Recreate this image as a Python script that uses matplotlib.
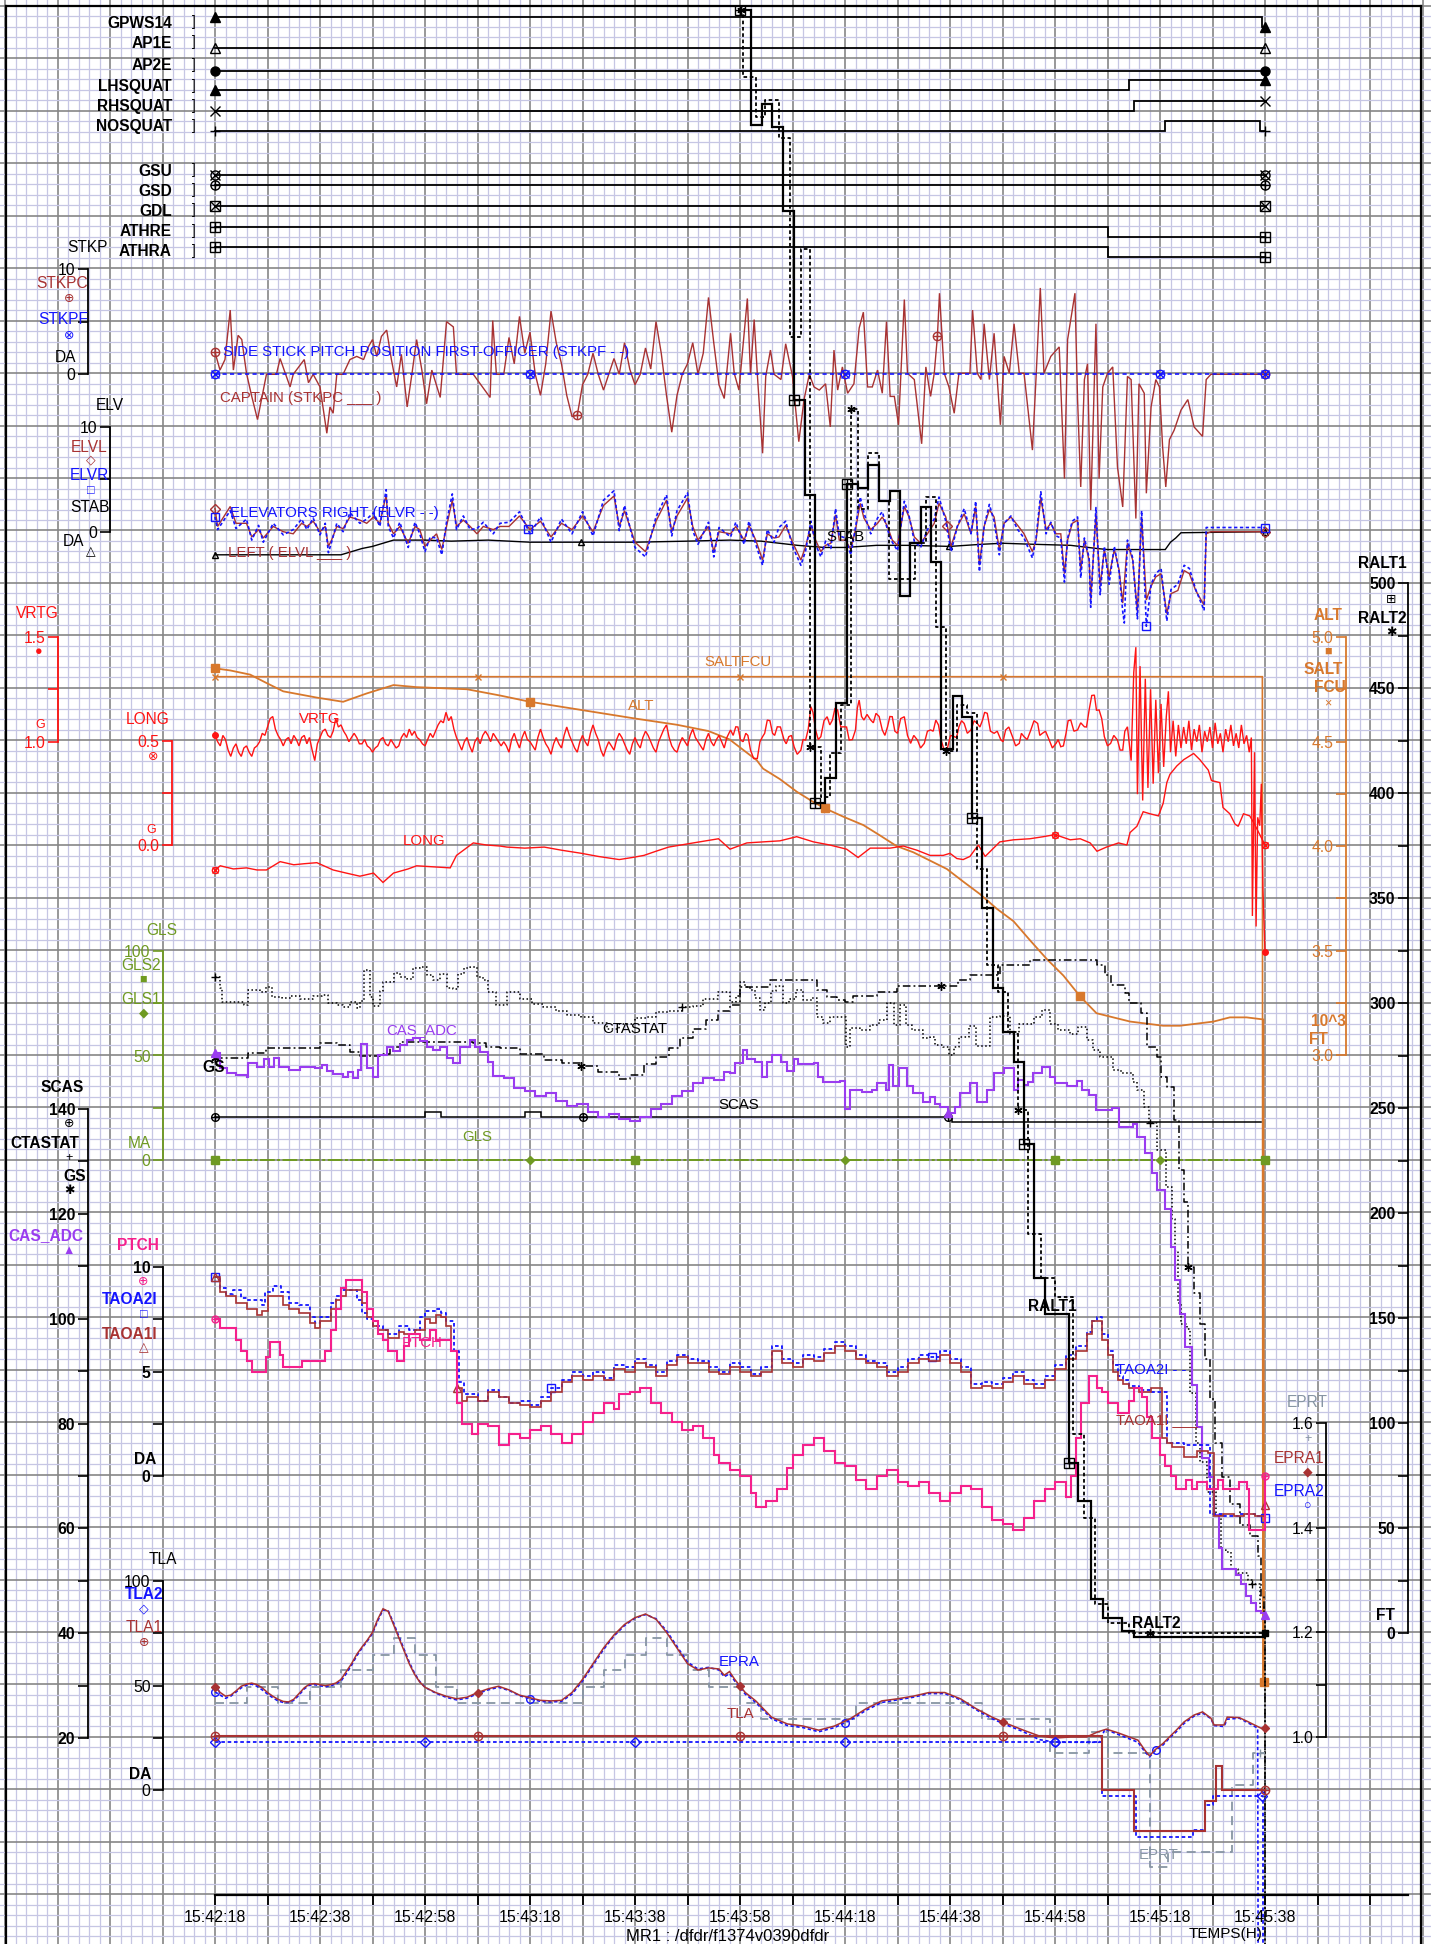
import numpy as np
import matplotlib
matplotlib.use("Agg")
import matplotlib.pyplot as plt

plt.rcParams['font.family'] = ['Liberation Sans', 'DejaVu Sans']

# ---------------------------------------------------------------------------
# data: time in seconds after 15:42:18, values in engineering units
# ---------------------------------------------------------------------------
# discrete parameters (state 0/1, step changes)
GPWS14 = [(0, 1), (199.4, 0), (200, 0)]
AP1E = [(0, 0), (200, 0)]
AP2E = [(0, 0), (200, 0)]
LHSQUAT = [(0, 0), (174.1, 1), (200, 1)]
RHSQUAT = [(0, 0), (175.1, 1), (200, 1)]
NOSQUAT = [(0, 0), (181, 1), (199, 0), (200, 0)]
GSU = [(0, 0), (200, 0)]
GSD = [(0, 0), (200, 0)]
GDL = [(0, 0), (200, 0)]
ATHRE = [(0, 1), (170, 0), (200, 0)]
ATHRA = [(0, 1), (170, 0), (200, 0)]

# side stick pitch (DA)
STKPC = [(0, 2.1), (0.95, 0.4), (1.9, 1.4), (2.9, 6.1), (3.5, 0.4), (4.4, 3.7), (5.1, 3.3), (6, 0.1),
         (7, -2.1), (8.1, -4.3), (9.2, -1.5), (9.8, 0), (11.7, 0), (12.4, 1.5), (14.3, -1.2), (14.9, 0),
         (17, 1.4), (17.8, -0.8), (18.7, 0), (20, -1.2), (21.3, -5.6), (21.9, -3.1), (22.5, -3.7),
         (23.2, 0), (24.4, 0), (25.7, 1.4), (27, 1.7), (28.3, 1.4), (29.2, 2.6), (30, 3.3), (30.8, 1.7),
         (31.7, 3.6), (32.7, 4.2), (33.6, 1.4), (34.6, -1.2), (35.5, 1.9), (36.6, -3.1), (37.5, 0),
         (38.4, 3.3), (39.4, 0.4), (40.3, -2.8), (41.3, 0.4), (42.9, -2.2), (44.1, 5.0), (45.4, 4.5),
         (46, 0), (49.2, 0), (52.4, -2.2), (52.9, 5.1), (53.6, 0), (55, 0), (56, 3.5), (57, 1), (58, 5.5),
         (59, 2), (60, 4), (61, 0), (62, -2), (63, 1), (64, 6), (65, 3), (66, 1), (67, -2), (68, -4),
         (69, -3.9), (70, -1), (71, 0), (72, 2), (73, 0), (74, -1.5), (75, 0), (76, 1.5), (77, 0), (78, 3),
         (79, 0.5), (80, -1), (81, 0), (82, 2.5), (83, 0.5), (84, 5), (85, 2), (86, -2), (87, -5.5),
         (88, -2), (89, 0), (90, 1), (91, 3), (92, 0), (93, 2), (94, 7.3), (95, 3), (96, -1), (97, -2.3),
         (98.2, 3.9), (98.9, 0.1), (99.8, -1.5), (101.4, 7.2), (102, 0), (102.7, 5.2), (103.3, 0),
         (104.3, -7.5), (104.9, -0.2), (105.8, 2.3), (106.5, 0), (107.8, -0.5), (108.7, 2.9), (110, -0.2),
         (111.2, -6.4), (112.2, -2.4), (113.2, 0), (114.1, -1.2), (115.1, -1.5), (116.3, -0.9),
         (117.2, -5), (117.9, 2.3), (118.6, -1.5), (119.5, 0.7), (120.5, -1.8), (121.7, -0.9),
         (122.7, 4.4), (123.5, 5.9), (124.3, -1.2), (125.2, -1.2), (126.2, 0.4), (127.1, -1.8),
         (127.9, 5), (128.6, -2.1), (129.4, -2.1), (130.2, -4.8), (131.3, 7.1), (131.9, 0.1),
         (133.2, -0.5), (134.6, -6.6), (135.4, 0.7), (136.3, -2.1), (137.0, 0.1), (137.6, 3.6), (138, 7.7),
         (138.9, 0.1), (139.8, -1.2), (140.8, -3.7), (141.7, 0.1), (143.8, 0.1), (144.3, 6.1),
         (145.2, 0.1), (145.9, -0.5), (146.5, 4.8), (147.5, -0.5), (148.4, 3.9), (149.6, -4.8),
         (150.3, 1.7), (151.3, 0.1), (152.2, 4.8), (153.2, 0.1), (154.1, 0.1), (155.7, -7.2),
         (156.4, -0.2), (157.2, 8.2), (157.9, 0.1), (159.2, 1.7), (160.8, 2.6), (161.8, -9.9),
         (162.4, 3.3), (163.8, 7.7), (164.3, -2.4), (164.9, -10.7), (165.6, -0.5), (166.2, 1),
         (166.8, -12.9), (167.8, 4.8), (168.4, -9.9), (169.1, -1.2), (170, 0.1), (171, 0.7),
         (171.9, -8.8), (172.9, -12.6), (173.8, -0.2), (174.5, -0.5), (175.4, -13.7), (176, -0.9),
         (177, -1.8), (177.4, -11.3), (178.3, -3.1), (179.2, -0.5), (179.9, -1.2), (180.5, -6.9),
         (181.1, -10.7), (181.8, -6.2), (182.7, -5.3), (184, -3.4), (185.3, -2.4), (186.5, -5),
         (188.1, -5.9), (188.8, -0.5), (189.7, 0), (200, 0)]
STKPF = [(0, 0), (200, 0)]

# elevators / stabilizer (DA)
ELVL = [(0, 2.2), (0.5, 0.5), (2.9, 2.4), (4, 0.8), (6, 0.8), (7, -0.5), (8.3, 0.2), (9.2, -0.6),
        (11.1, 0.5), (13, 0), (14.9, -0.2), (16.5, 0.8), (17.5, 0.5), (18.7, 1.0), (20, 0), (21, 0.5),
        (21.6, -1.4), (22.2, -0.8), (23.2, 0.5), (24.4, 0.3), (25.7, 1.4), (27.6, 1.1), (28.9, 0.8),
        (30.2, 1.4), (31.4, 0.8), (32.6, 3.5), (33, 0.8), (34, -0.2), (35.2, 0.5), (36.8, -1.1),
        (38.1, 0.5), (39, 0.2), (40, -1.4), (41, -0.8), (42.2, -0.2), (43.2, -1.7), (44.1, 0.5),
        (45.2, 3.0), (46, 0.5), (47.3, 1.1), (48.6, 0.5), (49.9, -0.2), (51.1, 0.5), (53, 0.2),
        (54.3, 0.5), (56, 0.5), (58, 1.5), (60, 0.2), (62, 1), (64, -0.5), (66, 0.8), (68, 0.2),
        (70, 1.5), (72, 0), (74, 2.5), (76, 3.4), (77, 0.5), (78, 2), (80, -1), (82, -1.9), (84, 1),
        (86, 3), (87, 0), (88, 1.5), (90, 3.2), (91, 0.5), (92, -0.8), (94, 0.5), (95, -1.9), (96, 0),
        (98.2, -0.2), (99.2, 0.5), (100.8, -0.8), (101.7, 0.6), (103, -0.8), (104.3, -2.7),
        (105.2, -0.2), (106.5, -0.6), (107.4, -0.5), (108.7, 0.6), (110, -1.0), (111.6, -2.7),
        (112.5, -1.4), (113.5, 0.6), (114.4, -0.8), (115.4, -1.9), (116.3, -1.3), (117.3, -1.1),
        (118.2, 1.6), (118.9, -0.8), (120.1, -0.8), (121.1, -1.7), (122, 0.2), (122.9, 2.7),
        (123.6, 1.3), (124.9, 0.2), (126.2, 0.8), (127.1, 1.4), (128.1, 0.5), (129, -0.8),
        (130, -1.3), (131.3, 2.4), (132.2, 1.4), (133.2, -0.5), (134.4, -1.1), (135.7, -0.2),
        (137, 0.8), (137.9, 2.7), (139.2, 1.4), (140.2, -1.4), (141.4, 0.5), (142.7, 1.7), (144, -0.2),
        (144.9, 2.4), (145.6, -3.2), (146.5, 0.5), (147.5, 2.1), (148.4, 1.4), (149.4, -1.7),
        (150.3, 0.8), (151.6, 1.4), (152.9, 0.6), (154.1, -0.2), (155.7, -1.9), (156.4, -0.8),
        (157.3, 3.2), (158.3, 0.2), (159.2, 0.8), (160.2, -0.2), (161.1, -0.2), (161.8, -4.0),
        (162.4, -0.8), (163.3, 0.8), (164.3, 1.1), (164.9, -3.7), (165.6, -0.8), (166.5, -2.7),
        (166.8, -6.5), (167.8, 1.7), (168.6, -5.2), (169.4, -1.7), (170.3, -4.3), (171.3, -1.7),
        (172.2, -3.6), (172.9, -6.8), (173.8, -1.1), (174.8, -2.7), (175.7, -7.6), (176.5, 1.4),
        (177.4, -6.5), (178.3, -5.2), (179.2, -4.3), (180.2, -4.0), (181.3, -7.8), (182.1, -5.9),
        (183.4, -5.6), (184.6, -3.7), (185.6, -4.0), (186.8, -5.6), (188.4, -7.0), (188.8, -0.2),
        (189.7, 0), (200, 0)]
ELVR = [(0, 1.4), (0.5, 0.2), (2.9, 2.0), (4, 0.3), (6, 1.2), (7, -0.8), (8.3, 0.6), (9.2, -1.0),
        (11.1, 0.8), (13, -0.3), (14.9, 0.2), (16.5, 1.2), (17.5, 0.2), (18.7, 1.3), (20, -0.3),
        (21, 0.8), (21.6, -2.0), (22.2, -1.0), (23.2, 0.8), (24.4, 0.0), (25.7, 1.8), (27.6, 0.8),
        (28.9, 1.2), (30.2, 1.8), (31.4, 0.5), (32.6, 4.0), (33, 0.5), (34, -0.6), (35.2, 0.9),
        (36.8, -1.5), (38.1, 0.9), (39, -0.2), (40, -1.9), (41, -0.5), (42.2, -0.6), (43.2, -2.2),
        (44.1, 0.9), (45.2, 3.6), (46, 0.2), (47.3, 1.5), (48.6, 0.2), (49.9, 0.3), (51.1, 0.9),
        (53, -0.2), (54.3, 0.8), (56, 0.9), (58, 1.9), (60, -0.2), (62, 1.4), (64, -1.0), (66, 1.2),
        (68, -0.2), (70, 1.9), (72, -0.4), (74, 3.0), (76, 3.9), (77, 0.1), (78, 2.5), (80, -1.5),
        (82, -2.4), (84, 1.4), (86, 3.5), (87, -0.4), (88, 2.0), (90, 3.7), (91, 0.1), (92, -1.2),
        (94, 0.9), (95, -2.4), (96, 0.4), (98.2, -0.5), (99.2, 0.9), (100.8, -1.2), (101.7, 1.0),
        (103, -1.2), (104.3, -3.2), (105.2, 0.2), (106.5, -1.0), (107.4, 0.4), (108.7, 1.0),
        (110, -1.4), (111.6, -3.2), (112.5, -1.8), (113.5, 1.0), (114.4, -1.2), (115.4, -2.4),
        (116.3, -0.9), (117.3, -1.6), (118.2, 2.2), (118.9, -0.4), (120.1, -0.6), (121.1, -2.2),
        (122, 0.4), (122.9, 3.3), (123.6, 1.8), (124.9, -0.2), (126.2, 1.3), (127.1, 1.9),
        (128.1, 0.2), (129, -1.0), (130, -1.8), (131.3, 2.9), (132.2, 1.5), (133.2, -0.9),
        (134.4, -1.5), (135.7, 0.2), (137, 1.2), (137.9, 3.3), (139.2, 1.0), (140.2, -1.9),
        (141.4, 0.5), (142.7, 2.2), (144, -0.2), (144.9, 2.9), (145.6, -3.8), (146.5, 0.5),
        (147.5, 2.6), (148.4, 1.0), (149.4, -2.2), (150.3, 0.8), (151.6, 1.5), (152.9, 0.2),
        (154.1, -0.6), (155.7, -2.5), (156.4, -0.6), (157.3, 3.8), (158.3, -0.2), (159.2, 0.9),
        (160.2, -0.4), (161.1, -0.6), (161.8, -4.8), (162.4, -0.6), (163.3, 1.0), (164.3, 1.4),
        (164.9, -4.4), (165.6, -0.6), (166.5, -2.5), (166.8, -7.2), (167.8, 2.3), (168.6, -6.0),
        (169.4, -1.4), (170.3, -5.0), (171.3, -1.4), (172.2, -3.8), (172.9, -7.6), (173.2, -8.7),
        (173.8, -0.8), (174.8, -2.5), (175.7, -8.3), (176.5, 2.0), (177.4, -9.0), (178.3, -5.0),
        (179.2, -4.0), (180.2, -3.5), (181.3, -8.5), (182.1, -5.5), (183.4, -5.0), (184.6, -3.2),
        (185.6, -3.5), (186.8, -5.5), (188.4, -7.5), (188.8, 0.4), (200, 0.4)]
STAB = [(0, -2.2), (24, -2.2), (26, -1.9), (28, -1.6), (30, -1.4), (32, -1.1), (34, -0.8), (40, -0.8),
        (45, -0.9), (52, -0.8), (60, -1.0), (70, -1.0), (80, -1.0), (90, -0.9), (98, -0.8), (104, -0.9),
        (111, -1.3), (116, -1.5), (120, -1.5), (126, -1.3), (132, -1.3), (140, -1.4), (146, -1.2),
        (150, -1.1), (156, -1.2), (163, -1.3), (168, -1.6), (170, -1.7), (181, -1.7), (182, -1.0),
        (183, -0.6), (184, -0.1), (200, 0.0)]

# accelerations (G)
VRTG = [(0, 1.03), (0.5, 1.00), (1, 0.98), (1.5, 1.03), (2, 1.01), (2.5, 0.96), (3, 0.93), (3.5, 0.97),
        (4, 0.99), (4.5, 0.95), (5, 0.93), (5.5, 0.97), (6, 0.98), (6.5, 0.95), (7, 0.93), (7.5, 0.97),
        (8, 0.98), (8.5, 1.00), (9, 1.04), (9.5, 1.03), (10, 1.07), (10.5, 1.11), (11, 1.12),
        (11.5, 1.06), (12, 1.03), (12.5, 1.01), (13, 0.98), (13.5, 1.01), (14, 1.02), (14.5, 0.99),
        (15, 1.03), (15.5, 1.01), (16, 0.98), (16.5, 1.02), (17, 1.03), (17.5, 0.99), (18, 1.02),
        (18.5, 0.96), (19, 0.91), (19.5, 0.99), (20, 1.02), (20.5, 1.05), (21, 1.06), (21.5, 1.03),
        (22, 1.02), (22.5, 1.05), (23, 1.11), (23.5, 1.07), (24, 1.08), (24.5, 1.05), (25, 1.03),
        (25.5, 1.00), (26, 1.02), (26.5, 1.04), (27, 1.02), (27.5, 0.99), (28, 0.99), (28.5, 1.01),
        (29, 0.98), (29.5, 0.97), (30, 0.95), (30.5, 0.97), (31, 0.98), (31.5, 1.01), (32, 1.02),
        (32.5, 0.99), (33, 0.98), (33.5, 1.01), (34, 0.99), (34.5, 0.97), (35, 0.98), (35.5, 1.02),
        (36, 1.04), (36.5, 1.02), (37, 1.06), (37.5, 1.03), (38, 1.05), (38.5, 1.02), (39, 1.01),
        (39.5, 0.99), (40, 0.98), (40.5, 1.01), (41, 1.04), (41.5, 1.02), (42, 1.05), (42.5, 1.08),
        (43, 1.10), (43.5, 1.09), (44, 1.14), (44.5, 1.10), (45, 1.12), (45.5, 1.06), (46, 1.02),
        (46.5, 0.99), (47, 0.96), (47.5, 1.00), (48, 1.02), (48.5, 0.98), (49, 0.95), (49.5, 1.00),
        (50, 1.02), (50.5, 0.99), (51, 1.03), (51.5, 1.05), (52, 1.03), (52.5, 1.00), (53, 1.04),
        (53.5, 1.02), (54, 1.0), (54.5, 0.98), (55, 1.0), (55.5, 0.98), (56, 0.95), (56.5, 1.01),
        (57, 1.04), (57.5, 1.00), (58, 0.97), (58.5, 1.02), (59, 1.05), (59.5, 1.01), (60, 1.0),
        (60.5, 0.98), (61, 0.96), (61.5, 1.02), (62, 1.06), (62.5, 1.02), (63, 0.99), (63.5, 0.97),
        (64, 0.94), (64.5, 0.99), (65, 1.02), (65.5, 0.99), (66, 0.97), (66.5, 1.03), (67, 1.07),
        (67.5, 1.03), (68, 1.0), (68.5, 0.97), (69, 0.95), (69.5, 1.00), (70, 1.03), (70.5, 1.00),
        (71, 0.98), (71.5, 1.04), (72, 1.08), (72.5, 1.04), (73, 1.01), (73.5, 0.96), (74, 0.93),
        (74.5, 0.97), (75, 1.0), (75.5, 0.98), (76, 0.96), (76.5, 1.01), (77, 1.04), (77.5, 1.02),
        (78, 0.99), (78.5, 0.96), (79, 0.94), (79.5, 0.99), (80, 1.02), (80.5, 0.99), (81, 0.97),
        (81.5, 1.02), (82, 1.05), (82.5, 1.03), (83, 1.0), (83.5, 0.97), (84, 0.95), (84.5, 1.00),
        (85, 1.03), (85.5, 1.06), (86, 1.08), (86.5, 1.02), (87, 0.98), (87.5, 0.96), (88, 0.95),
        (88.5, 0.99), (89, 1.02), (89.5, 1.00), (90, 0.98), (90.5, 1.03), (91, 1.06), (91.5, 1.02),
        (92, 1.0), (92.5, 0.98), (93, 0.96), (93.5, 1.01), (94, 1.04), (94.5, 1.00), (95, 0.98),
        (95.5, 1.01), (96, 1.03), (96.5, 1.00), (97, 0.97), (97.5, 1.02),
        (98.2, 1.056), (98.7, 1.03), (99.2, 1.071), (99.6, 1.07), (100.1, 1.008), (100.6, 1.00),
        (101.1, 1.04), (101.5, 1.03), (102, 0.96), (102.6, 0.92), (103.3, 0.92), (103.8, 1.00),
        (104.3, 1.024), (104.7, 1.04), (105.2, 1.103), (105.7, 1.10), (106.2, 1.04), (106.6, 1.03),
        (107.1, 1.071), (107.7, 1.07), (108.4, 1.008), (108.8, 0.99), (109.3, 1.024), (109.8, 1.03),
        (110.3, 0.976), (110.9, 0.94), (111.6, 0.96), (112.0, 1.01), (112.5, 1.008), (113.0, 1.06),
        (113.5, 1.167), (113.9, 1.14), (114.4, 1.056), (114.9, 1.01), (115.4, 1.024), (116.0, 1.10),
        (116.6, 1.119), (117.1, 1.08), (117.6, 1.103), (118.1, 1.16), (118.6, 1.15), (119.2, 1.07),
        (119.8, 1.071), (120.3, 1.07), (120.8, 1.008), (121.4, 1.01), (122, 1.056), (122.35, 1.16),
        (122.7, 1.198), (123.15, 1.12), (123.6, 1.103), (124.2, 1.13), (124.9, 1.103), (125.4, 1.09),
        (125.9, 1.135), (126.5, 1.12), (127.1, 1.056), (127.6, 1.03), (128.1, 1.071), (128.55, 1.12),
        (129, 1.119), (129.5, 1.05), (130, 1.04), (130.6, 1.11), (131.3, 1.119), (131.9, 1.03),
        (132.5, 0.992), (133.1, 1.03), (133.8, 1.008), (134.4, 0.97), (135.1, 0.992), (135.7, 1.05),
        (136.3, 1.056), (136.8, 1.05), (137.3, 1.103), (137.8, 1.08), (138.3, 1.008), (138.9, 0.96),
        (139.5, 0.968), (140.1, 1.03), (140.8, 1.024), (141.25, 1.02), (141.7, 1.071), (142.2, 1.10),
        (142.7, 1.087), (143.3, 1.04), (144, 1.056), (144.6, 1.10), (145.2, 1.087), (145.7, 1.07),
        (146.2, 1.103), (146.6, 1.14), (147.1, 1.135), (147.7, 1.05), (148.4, 1.04), (149.0, 1.05),
        (149.7, 1.008), (150.1, 1.00), (150.6, 1.056), (151.2, 1.07), (151.9, 1.024), (152.5, 0.98),
        (153.2, 0.992), (153.6, 1.04), (154.1, 1.024), (154.7, 1.01), (155.4, 1.056), (156.0, 1.10),
        (156.7, 1.087), (157.1, 1.03), (157.6, 1.04), (158.2, 1.05), (158.9, 1.008), (159.5, 0.97),
        (160.2, 0.992), (160.6, 1.01), (161.1, 0.976), (161.6, 0.98), (162.1, 1.04), (162.5, 1.10),
        (163, 1.103), (163.6, 1.05), (164.3, 1.056), (164.9, 1.09), (165.6, 1.071), (166.0, 1.07),
        (166.5, 1.151), (167.0, 1.22), (167.5, 1.222), (167.9, 1.15), (168.4, 1.151), (168.9, 1.11),
        (169.4, 1.024), (170.0, 0.98), (170.6, 0.992), (171.2, 1.03), (171.9, 1.008), (172.4, 0.96),
        (172.9, 0.96), (173.3, 1.05), (173.8, 1.071),
        (174.5, 0.91), (175, 1.33), (175.4, 1.45), (175.7, 0.75), (176.2, 1.36), (176.7, 0.72),
        (177.2, 1.3), (177.7, 0.78), (178.2, 1.25), (178.7, 0.8), (179.2, 1.2), (179.7, 0.85),
        (180.2, 1.18), (180.7, 0.88), (181.2, 1.12), (181.6, 1.24), (182, 0.95), (182.5, 1.1),
        (183, 0.93), (183.5, 1.08), (184, 0.97), (184.5, 1.07), (185, 0.99), (185.5, 1.1), (186, 0.96),
        (186.5, 1.06), (187, 1.0), (187.5, 1.08), (188, 0.95), (188.5, 1.05), (189, 1.0), (189.5, 1.07),
        (190, 0.97), (190.5, 1.09), (191, 0.99), (191.5, 1.04), (192, 0.95), (192.5, 1.06), (193, 1.0),
        (193.5, 1.08), (194, 0.98), (194.5, 1.04), (195, 0.97), (195.5, 1.08), (196, 0.99),
        (196.5, 1.03), (197, 0.95), (197.4, 1.02), (197.6, 0.17), (198, 0.95), (198.3, 0.12),
        (198.6, 0.64), (199, 0.6), (199.3, 0.8), (199.6, 0.3), (200, 0.0)]
LONG = [(0, -0.12), (1, -0.10), (3.5, -0.115), (6, -0.11), (8, -0.12), (9.8, -0.12), (12.4, -0.08),
        (15, -0.095), (17, -0.09), (19.4, -0.085), (22.5, -0.12), (25, -0.135), (27.6, -0.15),
        (30.2, -0.135), (32, -0.18), (34, -0.135), (36.8, -0.115), (38.4, -0.10), (41.6, -0.105),
        (44.8, -0.11), (46, -0.05), (49.2, 0.01), (51.7, 0.0), (54.3, -0.005), (55.6, -0.01),
        (59, -0.015), (62.7, -0.01), (66, -0.025), (69.8, -0.04), (73, -0.055), (77, -0.07),
        (79.5, -0.06), (81.7, -0.05), (84, -0.03), (86.4, -0.01), (91.1, 0.01), (95.9, 0.03),
        (98.1, -0.02), (101.3, 0.01), (104.4, 0.015), (107.6, 0.02), (110.8, 0.04), (114, 0.015),
        (117.1, 0.0), (120.3, -0.02), (122.5, -0.06), (124.8, -0.015), (128.6, -0.015),
        (131.1, -0.005), (133.7, -0.025), (136.2, -0.05), (138.7, -0.05), (140, -0.04), (141.3, -0.065),
        (142.5, -0.07), (143.8, -0.055), (145.4, 0.0), (146.7, -0.055), (148.3, -0.015), (149.5, 0.015),
        (152.1, 0.025), (155.2, 0.03), (157.8, 0.04), (160, 0.05), (162.9, 0.025), (164.8, 0.03),
        (166.7, 0.01), (168, -0.03), (169.8, -0.01), (172.1, 0.01), (173.7, 0.0), (174.3, 0.06),
        (175.6, 0.09), (176.8, 0.16), (178.1, 0.15), (179.7, 0.14), (180.6, 0.2), (181.3, 0.3),
        (181.9, 0.34), (183.2, 0.38), (184.5, 0.41), (186.4, 0.44), (187.6, 0.41), (189.2, 0.36),
        (189.8, 0.31), (191.4, 0.30), (192, 0.18), (193.3, 0.15), (194.3, 0.10), (194.9, 0.09),
        (195.9, 0.15), (197.1, 0.14), (198, 0.1), (199, 0.05), (200, 0.0)]

# altitudes (10^3 ft)
ALT = [(0, 4.85), (2.9, 4.84), (6.7, 4.82), (9.8, 4.78), (13, 4.74), (19.4, 4.71), (24.4, 4.69),
       (28.9, 4.73), (34, 4.77), (38.4, 4.76), (48, 4.75), (54.3, 4.72), (60, 4.69), (70, 4.65),
       (80, 4.61), (88, 4.58), (94, 4.55), (98, 4.51), (103.2, 4.41), (104.4, 4.37), (107.6, 4.32),
       (110.8, 4.26), (114, 4.21), (116.2, 4.18), (119.7, 4.14), (123.5, 4.10), (126.7, 4.05),
       (129.8, 4.0), (133, 3.97), (136.2, 3.93), (139.4, 3.89), (142.5, 3.83), (145.7, 3.77),
       (148.9, 3.70), (152.1, 3.64), (155.2, 3.55), (158.4, 3.46), (161.6, 3.38), (164.8, 3.28),
       (167.9, 3.20), (171.1, 3.18), (174.3, 3.16), (177.5, 3.15), (180.6, 3.14), (183.8, 3.14),
       (187, 3.15), (190.2, 3.16), (193.3, 3.18), (196.5, 3.18), (199.7, 3.17), (199.8, 0.0)]
SALTFCU = [(0, 4.81), (199.5, 4.81), (199.6, 0.0)]

# glide slope (MA)
GLS1 = [(0, 0), (200, 0)]
GLS2 = [(0, 0), (200, 0)]

# speeds (kt)
SCAS = [(0, 138.5), (40, 139.5), (43, 138.5), (59, 139.5), (62, 138.5), (140.4, 137.5), (199.3, 137.5)]
CTASTAT = [(0, 165.2), (0.9, 163), (1.3, 160.4), (5.6, 159.8), (6.3, 162.7), (8.5, 162.4), (9.8, 163.3),
           (10.8, 161.4), (12.7, 161.2), (14.4, 161.5), (16.2, 161), (18.7, 161.5), (20.3, 161.8),
           (21.6, 160.2), (23.2, 159.9), (24.4, 159.5), (25.7, 160.5), (27, 159.3), (27.6, 160.6),
           (28.3, 166.5), (29.5, 161.4), (30.1, 159.6), (31.4, 162.5), (32, 164.2), (34, 166),
           (35.2, 165.2), (36.5, 164.8), (37.7, 166.9), (39, 167.1), (40.3, 165.5), (41.6, 164.6),
           (42.9, 165.8), (44.1, 163.1), (45.4, 162.8), (46.3, 165.8), (47.5, 166.9), (48.6, 167.1),
           (49.9, 165.2), (51.1, 164.6), (52, 162.3), (53.6, 159.8), (55.6, 162.3), (58, 161),
           (60.4, 160), (62.5, 159.5), (65, 158.7), (67, 158), (69.8, 157.5), (72, 156.5),
           (74.6, 155.3), (77, 156.3), (80, 157.3), (82, 157.5), (84, 158.5), (86.4, 158.7), (89, 159.5),
           (91, 159.7), (93, 161), (95.9, 162.3), (98.1, 160.4), (99.3, 161.5), (100, 164.2),
           (101, 163.2), (101.9, 162.7), (102.9, 161.2), (103.8, 158.9), (104.8, 160.2), (105.9, 162.5),
           (106.8, 163.5), (108.1, 160.2), (109.4, 160.9), (110.7, 162.7), (112, 160.8), (113.7, 161.1),
           (114.7, 157.5), (115.9, 156.4), (117.2, 157.5), (120.1, 151.8), (121, 155.4), (122.9, 155.1),
           (124.8, 156), (126.4, 157), (128, 160.2), (129.3, 156), (130.4, 159.9), (131.7, 156),
           (132.8, 155.1), (134.8, 153.5), (136.1, 153.8), (137.1, 152.3), (138.7, 151.8),
           (139.9, 150.3), (140.8, 151.8), (141.7, 153.7), (143.6, 155.9), (144.9, 152), (147.7, 157.5),
           (149.6, 157.8), (151.5, 154.3), (153.2, 156.2), (156, 157.5), (157.6, 158.9), (159, 156.2),
           (160.6, 155), (162.9, 154.3), (164.4, 155.6), (166, 153.1), (167.2, 151.2), (168.5, 149.9),
           (171, 147.4), (172.6, 146.8), (174.8, 145.2), (175.7, 143.6), (177, 140.4), (177.9, 137.3),
           (179.5, 132.2), (181.1, 125.1), (182.2, 119), (182.8, 113), (183.4, 103), (184, 99),
           (185.2, 98), (185.8, 85.8), (186.8, 76.3), (187.7, 72.6), (189, 66.9), (190.6, 62.5),
           (191.6, 55.9), (192.5, 55.5), (193.5, 52.2), (194.8, 51.5), (196.7, 50.2), (197.6, 49.4),
           (199, 45), (199.9, 44), (200, -60)]
GS = [(0, 149.7), (6.3, 150.7), (9.8, 151.6), (20, 152.6), (23.2, 152.2), (25.7, 150.9), (27.6, 150.1),
      (31.4, 150.5), (33.3, 151.8), (35.2, 152.8), (49.2, 152.6), (51.7, 151.8), (54.3, 151.6),
      (58, 150.5), (62.7, 149.3), (66, 148.8), (69.8, 148.2), (73, 147), (77, 145.7), (79, 146.5),
      (81.7, 148.5), (84, 150), (86.4, 151.6), (88.5, 153.5), (91, 155.3), (93.5, 157), (95.9, 158.7),
      (98.1, 159.8), (100, 163.3), (105.7, 164.6), (114.6, 162.7), (116.5, 161.4), (118.4, 160.8),
      (120, 160.4), (121.6, 161.5), (126.1, 162.3), (129.9, 163.5), (141.6, 164.6), (143.9, 165.6),
      (149.6, 167.5), (155.3, 168.4), (168, 167.5), (169.6, 165.6), (170.6, 163.7), (173.4, 162.1),
      (174.1, 160.2), (176.3, 158.3), (177.6, 151.8), (179.5, 149.9), (180.2, 146.1), (181.4, 144.2),
      (182.6, 137.9), (183.6, 128.4), (184.5, 122.2), (185.4, 109.9), (186.4, 104.9), (187.7, 99),
      (188.6, 92.3), (189.5, 84.7), (190.5, 76.3), (191.8, 69.8), (193.3, 64.6), (195.2, 60.6),
      (197.1, 58.5), (198.7, 54.7), (199.3, 47.1), (199.9, 44), (200, -60)]
CAS_ADC = [(0, 150.7), (1, 147.8), (2.2, 146.9), (4, 146.5), (6, 146.1), (6.3, 148.8), (8, 148),
           (9.3, 149.5), (10.3, 148), (11.2, 149.7), (12.1, 148), (14, 147.4), (16.2, 148), (19, 147.8),
           (20.3, 148.3), (21.3, 147.2), (22.5, 146.7), (24.4, 146.1), (25.4, 147), (26.3, 145.9),
           (27.3, 147.4), (27.9, 152.4), (28.9, 147.8), (30.1, 146.1), (31.1, 150.3), (32.7, 151.8),
           (33.9, 151), (35.2, 152.2), (36.5, 153.1), (37.7, 153.5), (39, 152.9), (40.3, 151.8),
           (41.6, 151.2), (42.9, 151.8), (44.1, 149.7), (45.4, 148.8), (46.7, 151.8), (48.6, 153.1),
           (49.5, 151.8), (50.5, 150.9), (52, 149), (53, 146.3), (55, 146), (57, 144), (59, 143.5),
           (61, 142.5), (63, 143), (65, 141.5), (67, 140.5), (69, 141), (71, 139.5), (73, 138.5),
           (75, 139), (77, 138), (79, 137.8), (81, 138.5), (83, 140), (85, 141), (87, 142.5),
           (89, 143.5), (91, 145), (93, 146), (95, 145.5), (97, 147), (98.1, 146.9), (99.1, 148.8),
           (100.6, 151.3), (101.3, 149.5), (102.9, 149), (104.1, 146.1), (105.1, 149), (106, 150.3),
           (107.9, 149), (108.9, 147.2), (110.2, 149.5), (111.1, 148.5), (114, 148.7), (114.9, 146.1),
           (115.9, 145.2), (119.1, 145.4), (120, 140), (121, 143.6), (123.2, 143.3), (125.1, 143.6),
           (126, 144.9), (127.9, 143.6), (128.3, 148.4), (129.2, 144.4), (130.2, 147.8), (131.8, 144.4),
           (133, 143), (134.9, 141.3), (136.2, 142.3), (137.1, 141), (138.1, 140.4), (139.7, 139.2),
           (141, 140.4), (141.9, 143), (143.8, 145), (145.1, 141.3), (147, 143.6), (148.3, 146.9),
           (150.2, 147.8), (152.1, 143.6), (153, 145.5), (154, 144.5), (154.9, 145.2), (155.9, 146.9),
           (157.5, 148), (159.1, 146.1), (160, 145), (162.2, 144.4), (164.1, 145.4), (165.1, 143.6),
           (166.4, 142.6), (167.9, 139.8), (170.8, 140.1), (172.1, 136.6), (174.9, 137.2),
           (175.6, 134.7), (177.1, 131.6), (178.4, 127.8), (179.4, 124.5), (181, 120.9), (182, 113.7),
           (182.9, 107.4), (183.9, 100.9), (184.8, 94.6), (186.1, 87.3), (187.1, 79.3), (188, 73.4),
           (189.3, 69.8), (190.3, 62.5), (191.2, 56.3), (191.9, 52.2), (194.4, 51.1), (195.4, 49.4),
           (196.3, 47.1), (197.3, 45.7), (198.2, 44.2), (199.2, 43.8), (200, 43.4)]

# attitude / angle of attack (DA)
PTCH = [(0, 7.5), (1, 7.1), (3, 7.1), (4, 6.5), (5, 6.0), (6, 5.5), (7, 5.0), (9, 5.0), (9.8, 5.7),
        (10.5, 6.4), (11.5, 6.4), (12.3, 5.8), (13, 5.2), (16, 5.2), (16.5, 5.5), (20, 5.5), (21, 6.0),
        (22, 7.0), (23, 8.0), (24, 9.0), (25, 9.4), (27, 9.4), (28, 8.8), (29, 8.0), (30, 7.4),
        (31, 6.8), (32, 6.5), (33, 6.0), (34.6, 5.5), (36, 6.2), (37, 6.8), (39, 6.5), (41, 7.0),
        (42, 6.5), (44, 6.5), (45, 6.0), (46, 3.5), (47, 2.5), (49, 2.0), (50, 2.5), (52, 2.4),
        (54, 1.5), (56, 2.0), (58, 1.8), (60, 2.2), (62, 2.4), (64, 2.0), (66, 1.6), (68, 2.0),
        (70, 2.6), (72, 3.0), (74, 3.5), (76, 3.2), (77, 3.9), (79, 4.0), (81, 4.2), (83, 3.5),
        (85, 3.0), (87, 2.6), (89, 2.2), (91, 2.4), (93, 1.8), (95, 1.0), (96, 0.6), (98, 0.3),
        (100, 0.0), (102, -0.8), (103, -1.5), (105, -1.2), (107, -0.6), (109, 0.4), (110, 1.0),
        (112, 1.5), (114, 1.8), (116, 1.2), (118, 0.6), (120, 0.5), (122, -0.2), (124, -0.6), (126, 0.0),
        (128, 0.3), (130, -0.3), (132, -0.5), (134, -0.3), (136, -0.8), (138, -1.2), (140, -0.8),
        (142, -0.5), (144, -0.6), (146, -1.5), (148, -2.1), (150, -2.3), (152, -2.6), (154, -2.0),
        (156, -1.2), (158, -0.6), (160, -0.3), (162, -1.0), (163, 0.0), (164, 1.8), (165, 3.5),
        (166.5, 4.8), (168, 4.2), (169, 4.0), (170, 3.5), (172, 3.0), (174, 3.6), (175, 4.2),
        (176.5, 3.8), (177.5, 2.8), (178.5, 1.8), (180, 1.0), (181, 0.5), (182, 0.0), (183, -0.6),
        (185, -0.2), (186, -0.6), (187, -0.3), (189, -0.6), (191, -0.2), (192, -0.6), (195, -0.3),
        (196.5, -0.6), (197, -2.6), (199.5, -2.6), (200, 0.0)]
TAOA1I = [(0, 9.5), (1, 8.8), (2, 8.6), (4, 8.3), (6, 8.0), (8, 7.7), (9, 7.9), (10, 8.6), (12, 8.6),
          (13, 8.2), (14, 8.0), (16, 7.8), (18, 7.3), (19, 7.1), (20, 7.4), (22, 8.0), (23, 8.4),
          (24, 8.6), (25, 8.9), (27, 8.9), (28, 8.3), (29, 7.6), (30, 7.2), (31, 7.0), (33, 6.6),
          (35, 6.9), (36, 6.8), (38, 7.0), (40, 7.5), (41, 7.3), (42, 7.7), (43, 7.6), (44, 7.2),
          (45, 6.0), (46, 4.2), (47, 3.6), (48, 3.8), (50, 3.6), (52, 4.0), (54, 3.8), (56, 3.5),
          (58, 3.4), (60, 3.3), (62, 3.6), (64, 4.0), (66, 4.5), (68, 4.8), (70, 4.6), (72, 4.8),
          (74, 4.6), (76, 5.1), (78, 5.0), (80, 5.4), (82, 5.2), (84, 4.8), (86, 5.3), (88, 5.7),
          (90, 5.4), (94, 5.0), (96, 4.9), (98, 5.2), (100, 5.0), (102, 4.8), (104, 5.0), (106, 6.0),
          (108, 5.4), (110, 5.2), (112, 5.6), (114, 5.5), (116, 5.9), (118, 6.2), (120, 6.0),
          (122, 5.6), (124, 5.4), (126, 5.2), (128, 4.8), (130, 5.0), (132, 5.4), (134, 5.6),
          (136, 5.5), (138, 5.8), (140, 5.4), (142, 5.0), (144, 4.2), (146, 4.3), (148, 4.2),
          (150, 4.5), (152, 4.8), (154, 4.4), (156, 4.2), (158, 4.6), (160, 5.1), (162, 5.6),
          (164, 6.0), (166, 6.8), (167, 7.4), (169, 6.5), (170, 5.8), (171, 5.0), (172, 4.6),
          (173, 4.4), (174, 4.2), (176, 4.0), (178.3, 4.2), (180.3, 1.8), (181.3, 1.6), (182.2, 1.4),
          (184.5, 0.9), (187, 1.2), (189.2, 1.1), (190.2, -1.9), (192, -1.8), (194, -1.9), (196, -1.8),
          (198, -1.9), (200, -1.4)]
TAOA2I = [(0, 9.5), (1, 9.0), (2, 8.7), (3.5, 8.9), (5, 8.5), (6, 8.4), (9, 8.2), (9.5, 8.8), (11, 9.1),
          (12.5, 8.8), (14, 8.3), (16, 8.2), (18, 7.6), (19, 7.3), (20, 7.6), (22, 8.3), (23, 8.6),
          (24, 8.9), (26, 8.9), (27, 8.4), (28, 7.8), (29, 7.5), (30, 7.2), (32, 7.0), (33, 6.8),
          (35, 7.2), (37, 7.0), (39, 7.6), (40, 7.9), (42, 8.0), (43, 7.8), (44, 7.4), (45.5, 6.0),
          (46.5, 4.5), (47.5, 3.9), (50, 3.6), (52, 4.1), (54, 3.8), (56, 3.5), (58, 3.6), (60, 3.4),
          (62, 3.8), (64, 4.2), (66, 4.6), (68, 5.0), (70, 4.8), (72, 5.0), (74, 4.7), (76, 5.3),
          (78, 5.2), (80, 5.6), (82, 5.3), (84, 5.0), (86, 5.5), (88, 5.8), (90, 5.6), (92, 5.5),
          (94, 5.2), (96, 5.0), (98, 5.4), (100, 5.2), (102, 4.9), (104, 5.2), (106, 6.2), (108, 5.6),
          (110, 5.4), (112, 5.8), (114, 5.7), (116, 6.1), (118, 6.4), (120, 6.2), (122, 5.8),
          (124, 5.5), (126, 5.4), (128, 5.0), (130, 5.2), (132, 5.6), (134, 5.8), (136, 5.7),
          (138, 6.0), (140, 5.6), (142, 5.2), (144, 4.4), (146, 4.5), (148, 4.4), (150, 4.7),
          (152, 5.0), (154, 4.6), (156, 4.4), (158, 4.8), (160, 5.3), (162, 5.8), (164, 6.2),
          (166, 6.9), (167, 7.4), (168, 7.6), (169, 6.8), (170, 6.0), (171, 5.3), (172, 4.8),
          (173, 4.6), (174, 4.3), (176, 4.1), (178, 4.0), (181.3, 1.6), (184.5, 1.5), (188, 1.5),
          (189.6, -1.8), (192, -1.9), (195, -1.8), (198, -1.9), (200, -2.0)]

# radio altitudes (ft)
RALT1 = [(100, 773), (102.1, 718), (104.2, 728), (106.1, 717), (108.2, 677), (110.2, 587), (112.3, 542),
         (114.3, 395), (116.2, 407), (118.3, 443), (120.3, 547), (122.4, 545), (124.3, 556),
         (126.4, 539), (128.5, 544), (130.4, 494), (132.3, 519), (134.4, 536), (136.3, 510),
         (138.2, 421), (140.5, 446), (142.2, 436), (144.1, 388), (146.0, 345), (148.2, 307),
         (150.1, 286), (152.2, 272), (154.1, 233), (156.0, 169), (158.1, 152), (162.6, 81),
         (164.4, 63), (166.8, 16), (169.2, 7), (172.7, 1), (175, -2), (199.9, -2), (200, 0)]
RALT2 = [(100.2, 773), (100.6, 741), (103.0, 722), (104.8, 730), (107.4, 712), (109.5, 617),
         (111.6, 659), (113.3, 422), (115.4, 398), (117.2, 419), (119.2, 442), (121.2, 583),
         (122.4, 535), (124.4, 562), (126.5, 539), (128.4, 502), (131.4, 502), (133.4, 519),
         (135.4, 541), (137.3, 479), (139.2, 420), (141.4, 442), (143.3, 438), (145.2, 364),
         (147.0, 318), (149.2, 305), (151.1, 286), (153.0, 249), (154.9, 190), (157.3, 169),
         (160, 160), (163.4, 95), (165.5, 55), (167.6, 14), (170, 5), (174, 0), (199.9, 0), (200, 0)]

# engine pressure ratios
EPRA1 = [(0, 1.096), (1, 1.085), (2, 1.078), (3, 1.080), (4, 1.088), (5, 1.097), (6, 1.101), (7, 1.103),
         (8, 1.100), (9, 1.094), (10, 1.085), (11, 1.078), (12, 1.072), (13, 1.068), (14, 1.067),
         (15, 1.072), (16, 1.083), (17, 1.094), (18, 1.101), (19, 1.102), (20, 1.100), (21, 1.098),
         (22, 1.100), (23, 1.103), (24, 1.110), (25, 1.125), (26, 1.140), (27, 1.158), (28, 1.172),
         (29, 1.185), (30, 1.200), (31, 1.225), (32, 1.245), (33, 1.240), (34, 1.215), (35, 1.190),
         (36, 1.165), (37, 1.140), (38, 1.120), (39, 1.105), (40, 1.095), (42, 1.085), (44, 1.078),
         (46, 1.073), (48, 1.076), (50, 1.085), (52, 1.092), (54, 1.097), (56, 1.090), (58, 1.080),
         (60, 1.075), (62, 1.070), (64, 1.069), (66, 1.070), (68, 1.085), (70, 1.110), (72, 1.140),
         (74, 1.170), (76, 1.195), (78, 1.215), (80, 1.228), (82, 1.235), (84, 1.225), (86, 1.200),
         (88, 1.170), (90, 1.140), (92, 1.128), (94, 1.132), (96, 1.130), (97, 1.118), (98, 1.125),
         (99, 1.110), (101, 1.085), (103, 1.069), (106, 1.038), (109, 1.025), (112, 1.021),
         (115, 1.013), (118, 1.021), (121, 1.035), (124, 1.054), (127, 1.069), (130, 1.073),
         (133, 1.078), (136, 1.085), (139, 1.085), (142, 1.073), (145, 1.054), (148, 1.038),
         (151, 1.025), (154, 1.013), (157, 1.002), (160, 0.998), (163, 1.000), (166, 1.000),
         (168.2, 1.01), (169.8, 1.015), (172, 1.008), (175.8, 0.994), (177.1, 0.975), (178, 0.964),
         (179, 0.975), (180.6, 0.988), (181.8, 1.000), (183.1, 1.013), (184.6, 1.029), (186.5, 1.042),
         (188.1, 1.048), (189.7, 1.036), (190.3, 1.023), (192.2, 1.023), (192.8, 1.038), (195.1, 1.037),
         (196.6, 1.030), (199.2, 1.017), (200, 1.017)]
EPRA2 = [(0, 1.086), (1, 1.080), (2, 1.074), (3, 1.078), (4, 1.086), (5, 1.094), (6, 1.099), (7, 1.101),
         (8, 1.097), (9, 1.090), (10, 1.082), (11, 1.075), (12, 1.069), (13, 1.066), (14, 1.066),
         (15, 1.070), (16, 1.080), (17, 1.092), (18, 1.099), (19, 1.100), (20, 1.098), (21, 1.096),
         (22, 1.098), (23, 1.101), (24, 1.107), (25, 1.121), (26, 1.137), (27, 1.155), (28, 1.170),
         (29, 1.183), (30, 1.198), (31, 1.222), (32, 1.243), (33, 1.241), (34, 1.218), (35, 1.193),
         (36, 1.168), (37, 1.143), (38, 1.122), (39, 1.106), (40, 1.095), (42, 1.084), (44, 1.076),
         (46, 1.071), (48, 1.074), (50, 1.083), (52, 1.090), (54, 1.095), (56, 1.089), (58, 1.079),
         (60, 1.073), (62, 1.068), (64, 1.067), (66, 1.068), (68, 1.082), (70, 1.107), (72, 1.137),
         (74, 1.167), (76, 1.193), (78, 1.213), (80, 1.227), (82, 1.234), (84, 1.226), (86, 1.203),
         (88, 1.173), (90, 1.143), (92, 1.130), (94, 1.133), (96, 1.128), (97, 1.115), (98, 1.121),
         (99, 1.107), (101, 1.082), (103, 1.066), (106, 1.035), (109, 1.022), (112, 1.018),
         (115, 1.010), (118, 1.018), (121, 1.032), (124, 1.051), (127, 1.066), (130, 1.071),
         (133, 1.076), (136, 1.083), (139, 1.083), (142, 1.071), (145, 1.052), (148, 1.035),
         (151, 1.022), (154, 1.010), (157, 0.995), (160, 0.990), (168.5, 0.990), (169.5, 1.015),
         (172, 1.005), (175.8, 0.990), (177.1, 0.972), (178, 0.962), (179.2, 0.975), (180.6, 0.985),
         (181.8, 0.998), (183.1, 1.010), (184.6, 1.026), (186.5, 1.040), (188.1, 1.046),
         (189.7, 1.035), (190.3, 1.022), (192.2, 1.020), (192.8, 1.034), (195.1, 1.036),
         (196.6, 1.028), (198.6, 1.017), (198.7, 0.55)]
EPRT = [(0, 1.065), (6, 1.096), (12, 1.065), (18, 1.096), (24, 1.128), (30, 1.157), (34, 1.19),
        (38, 1.157), (42, 1.096), (46, 1.065), (66, 1.065), (70, 1.096), (74, 1.128), (78, 1.157),
        (82, 1.19), (86, 1.157), (90, 1.128), (94, 1.096), (100, 1.065), (104, 1.035), (118, 1.035),
        (122, 1.065), (142, 1.065), (146, 1.035), (159, 0.969), (166.4, 1.01), (170, 0.969),
        (178, 0.751), (181.5, 0.78), (193.7, 0.908), (197.8, 0.969), (200, 0.969)]

# throttle lever angles (DA)
TLA1 = [(0, 25.8), (169, 0), (175, -19.6), (188.6, -5.3), (190.7, 11.5), (191.8, 0), (200, 0)]
TLA2 = [(0, 23), (169, -3), (175.5, -22.5), (186.3, -19), (188.6, -7), (190, -3), (199.5, -3), (199.6, -80)]

TICK_TIMES = list(range(0, 201, 20))

# ---------------------------------------------------------------------------
# page geometry (pixels) and colours
# ---------------------------------------------------------------------------
W, H = 1431, 1944
X0 = 215.0          # column of 15:42:18
PX_S = 5.25         # pixels per second
TOP = 6.0           # top border row
CELL = 52.45        # major grid cell

BROWN = '#a83232'
BLUE = '#1414ff'
RED = '#ff1414'
ORANGE = '#d8782c'
OLIVE = '#6f9a22'
PURPLE = '#9a3cf0'
PINK = '#f5208c'
GREY = '#8795a3'

fig = plt.figure(figsize=(W / 100, H / 100), dpi=100)
base = fig.add_axes([0, 0, 1, 1])
base.set_xlim(-X0 / PX_S, (W - X0) / PX_S)
base.set_ylim(H, 0)
base.set_xticks(np.arange(-40, 232, 10))
base.set_xticks(np.arange(-40, 232, 2), minor=True)
base.set_yticks(np.arange(TOP, H, CELL))
base.set_yticks(np.arange(TOP, H, CELL / 5), minor=True)
base.grid(which='minor', color='#c6c6e4', lw=0.9)
base.grid(which='major', color='#868686', lw=1.2)
base.tick_params(which='both', length=0, labelbottom=False, labelleft=False)
for s in base.spines.values():
    s.set_visible(False)

frame = fig.add_axes([5.5 / W, 0, (1421 - 5.5) / W, (H - TOP) / H])
frame.patch.set_visible(False)
frame.set_xticks([]); frame.set_yticks([])
frame.spines['bottom'].set_visible(False)
for s in ('left', 'top', 'right'):
    frame.spines[s].set_linewidth(1.6)


def value_axes(v_a, row_a, v_b, row_b):
    """Overlay axes where value v_a sits on pixel row row_a and v_b on row_b."""
    a = fig.add_axes([0, 0, 1, (H - TOP) / H], sharex=base)
    k = (v_b - v_a) / (row_b - row_a)
    a.set_ylim(v_a + k * (H - row_a), v_a + k * (TOP - row_a))
    a.set_axis_off()
    return a


MARKS = {
    'tri_f': [('^', True)], 'tri_o': [('^', False)], 'dot': [('o', True)], 'circ': [('o', False)],
    'x': [('x', True)], 'plus': [('+', True)], 'oplus': [('o', False), ('+', True)],
    'otimes': [('o', False), ('x', True)], 'splus': [('s', False), ('+', True)],
    'stimes': [('s', False), ('x', True)], 'sq': [('s', True)], 'sq_o': [('s', False)],
    'dia': [('D', True)], 'dia_o': [('D', False)], 'ast': [((6, 2, 0), True)],
}


def trace(ax, pts, color, ls='-', lw=1.1, step=False, kind=None, at=(), ms=6):
    t, v = np.array(pts, dtype=float).T
    ax.plot(t, v, color=color, ls=ls, lw=lw, drawstyle='steps-post' if step else 'default',
            solid_joinstyle='miter')
    if kind:
        when = np.asarray(at, dtype=float)
        if step:
            i = np.clip(np.searchsorted(t, when, side='right') - 1, 0, len(t) - 1)
            mv = v[i]
        else:
            mv = np.interp(when, t, v)
        for m, filled in MARKS[kind]:
            ax.plot(when, mv, ls='none', marker=m, ms=ms, mec=color, mew=1.0,
                    mfc=color if filled else 'none')


def scale_bar(x, v_lo, row_lo, v_hi, row_hi, ticks, labels, color='black', bold=False):
    a = fig.add_axes([x / W, 1 - row_lo / H, 0.0001, (row_lo - row_hi) / H])
    a.patch.set_visible(False)
    a.set_ylim(v_lo, v_hi)
    a.set_xticks([])
    for s in ('top', 'right', 'bottom'):
        a.spines[s].set_visible(False)
    a.spines['left'].set_color(color)
    a.spines['left'].set_linewidth(1.3)
    a.set_yticks(ticks)
    a.set_yticklabels(labels)
    a.tick_params(axis='y', colors=color, length=7, width=1.2, labelsize=11.3, pad=2)
    if bold:
        for lb in a.get_yticklabels():
            lb.set_fontweight('bold')


def label(x, y, s, color='black', bold=False, ha='center', size=11.2):
    fig.text(x / W, 1 - y / H, s, color=color, ha=ha, va='center', fontsize=size,
             fontweight='bold' if bold else 'normal')


# ---------------------------------------------------------------------------
# discrete parameters
# ---------------------------------------------------------------------------
discretes = [('GPWS14', GPWS14, 27.5, 23, 'tri_f'), ('AP1E', AP1E, 48.3, 43, 'tri_o'),
             ('AP2E', AP2E, 70.7, 66, 'dot'), ('LHSQUAT', LHSQUAT, 90.3, 87, 'tri_f'),
             ('RHSQUAT', RHSQUAT, 111.3, 107, 'x'), ('NOSQUAT', NOSQUAT, 131.3, 127, 'plus'),
             ('GSU', GSU, 175, 171, 'otimes'), ('GSD', GSD, 185, 191, 'oplus'),
             ('GDL', GDL, 206, 211, 'stimes'), ('ATHRE', ATHRE, 237, 232, 'splus'),
             ('ATHRA', ATHRA, 257, 252, 'splus')]
for name, pts, row0, lrow, kind in discretes:
    a = value_axes(0, row0, 1, row0 - 10)
    trace(a, pts, 'black', lw=1.3, step=True, kind=kind, at=[0, 200], ms=6.5)
    label(172, lrow, name, bold=True, ha='right')
    label(194, lrow - 1, ']', size=10)

# ---------------------------------------------------------------------------
# stick / elevators
# ---------------------------------------------------------------------------
ax_stk = value_axes(0, 374.3, 10, 269)
trace(ax_stk, STKPC, BROWN, lw=1.0, kind='oplus', at=[0, 69, 137.6, 200])
trace(ax_stk, STKPF, BLUE, ls=(0, (2.5, 2)), lw=1.2, kind='otimes', at=[0, 60, 120, 180, 200])
scale_bar(88, 0, 374.3, 10, 269, [0, 5, 10], ['0', '', '10'])

ax_elv = value_axes(0, 531.7, 10, 426.7)
trace(ax_elv, STAB, 'black', lw=1.0, kind='tri_o', at=[0, 69.8, 139.8, 200], ms=5)
trace(ax_elv, ELVL, BROWN, lw=1.0, kind='dia_o', at=[0, 139.5, 200], ms=5)
trace(ax_elv, ELVR, BLUE, ls=(0, (2, 1.5)), lw=1.2, kind='sq_o', at=[0, 59.6, 177.4, 200], ms=5.5)
scale_bar(110, 0, 531.7, 10, 426.7, [0, 5, 10], ['0', '', '10'])

# ---------------------------------------------------------------------------
# accelerations, altitude
# ---------------------------------------------------------------------------
ax_alt = value_axes(3.0, 1055, 5.0, 637)
trace(ax_alt, SALTFCU, ORANGE, lw=1.2, kind='x', at=[0, 50, 100, 150, 199.6], ms=5)
trace(ax_alt, ALT, ORANGE, lw=1.3, kind='sq', at=[0, 60, 116.2, 164.8, 199.8], ms=5.5)
scale_bar(1346, 3.0, 1055, 5.0, 637, np.arange(3.0, 5.01, 0.25),
          ['3.0', '', '3.5', '', '4.0', '', '4.5', '', '5.0'], color=ORANGE)

ax_vrtg = value_axes(1.0, 741.7, 1.5, 636.7)
trace(ax_vrtg, VRTG, RED, lw=1.0, kind='dot', at=[0, 200], ms=4)
scale_bar(58, 1.0, 741.7, 1.5, 636.7, [1.0, 1.25, 1.5], ['1.0', '', '1.5'], color=RED)

ax_long = value_axes(0.0, 845, 0.5, 741)
trace(ax_long, LONG, RED, lw=1.0, kind='otimes', at=[0, 160, 200], ms=4.5)
scale_bar(172, 0.0, 845, 0.5, 741, [0.0, 0.25, 0.5], ['0.0', '', '0.5'], color=RED)

# ---------------------------------------------------------------------------
# glide slope and speeds
# ---------------------------------------------------------------------------
ax_gls = value_axes(0, 1160, 100, 951)
trace(ax_gls, GLS1, OLIVE, ls=(0, (8, 1.5, 1.5, 1.5)), lw=1.3, kind='dia', at=[0, 60, 120, 180], ms=4)
trace(ax_gls, GLS2, OLIVE, ls=(0, (8, 1.5, 1.5, 1.5)), lw=1.3, kind='sq', at=[0, 80, 160, 200], ms=6)
scale_bar(163, 0, 1160, 100, 951, [0, 25, 50, 75, 100], ['0', '', '50', '', '100'], color=OLIVE)

ax_spd = value_axes(20, 1738, 140, 1109)
trace(ax_spd, SCAS, 'black', lw=1.1, step=True, kind='oplus', at=[0, 70, 139.7], ms=5.5)
trace(ax_spd, CTASTAT, 'black', ls=(0, (1, 1.6)), lw=1.1, step=True, kind='plus',
      at=[0, 89, 178, 197.6], ms=6)
trace(ax_spd, GS, 'black', ls=(0, (5, 2, 1.2, 2)), lw=1.1, step=True, kind='ast',
      at=[0, 69.8, 138.2, 185.4], ms=6)
trace(ax_spd, CAS_ADC, PURPLE, lw=1.5, step=True, kind='tri_f', at=[0, 139.7, 200], ms=6)
scale_bar(88, 20, 1738, 140, 1109, np.arange(20, 141, 10),
          [str(v) if v % 20 == 0 else '' for v in range(20, 141, 10)], bold=True)

# ---------------------------------------------------------------------------
# pitch / AoA, radio altitude, EPR, TLA
# ---------------------------------------------------------------------------
ax_pt = value_axes(0, 1476, 10, 1267)
trace(ax_pt, TAOA2I, BLUE, ls=(0, (2, 1.5)), lw=1.3, step=True, kind='sq_o', at=[0, 64, 136.5, 200])
trace(ax_pt, TAOA1I, BROWN, lw=1.2, step=True, kind='tri_o', at=[0, 46, 200], ms=5.5)
trace(ax_pt, PTCH, PINK, lw=1.5, step=True, kind='oplus', at=[0, 200], ms=5)
scale_bar(163, 0, 1476, 10, 1267, [0, 2.5, 5, 7.5, 10], ['0', '', '5', '', '10'], bold=True)

ax_epr = value_axes(1.0, 1737, 1.6, 1423)
trace(ax_epr, EPRT, GREY, ls=(0, (5, 3)), lw=1.3, step=True, kind='plus', at=[199], ms=6)
trace(ax_epr, EPRA2, BLUE, ls=(0, (2, 1.5)), lw=1.2, kind='circ', at=[0, 60, 120, 160, 179.2], ms=5.5)
trace(ax_epr, EPRA1, BROWN, lw=1.1, kind='dia', at=[0, 50, 100, 150, 200], ms=4)
scale_bar(1326, 1.0, 1737, 1.6, 1423, np.arange(1.0, 1.61, 0.1),
          ['1.0', '', '1.2', '', '1.4', '', '1.6'])

ax_tla = value_axes(0, 1790, 100, 1581)
trace(ax_tla, TLA2, BLUE, ls=(0, (2, 1.5)), lw=1.3, step=True, kind='dia_o',
      at=[0, 40, 80, 120, 160, 199.5], ms=5)
trace(ax_tla, TLA1, BROWN, lw=1.5, step=True, kind='oplus', at=[0, 50, 100, 150, 200], ms=6)
scale_bar(163, 0, 1790, 100, 1581, [0, 25, 50, 75, 100], ['0', '', '50', '', '100'])

ax_ra = value_axes(0, 1633, 500, 583)
trace(ax_ra, RALT2, 'black', ls=(0, (2, 1.5)), lw=1.3, step=True, kind='ast',
      at=[100.2, 113.3, 121.2, 139.2, 153.0, 178], ms=6)
trace(ax_ra, RALT1, 'black', lw=1.6, step=True, kind='splus',
      at=[100, 110.2, 114.3, 120.3, 144.1, 154.1, 162.6], ms=6.5)
trace(ax_ra, [(200, 0)], 'black', kind='sq', at=[200], ms=5)
scale_bar(1408, 0, 1633, 500, 583, np.arange(0, 501, 25),
          [str(v) if v % 50 == 0 else '' for v in range(0, 501, 25)], bold=True)

# ---------------------------------------------------------------------------
# time axis
# ---------------------------------------------------------------------------
tax = fig.add_axes([X0 / W, 1 - 1895 / H, (1408 - X0) / W, 0.0001])
tax.patch.set_visible(False)
tax.set_xlim(0, (1408 - X0) / PX_S)
for s in ('top', 'left', 'right'):
    tax.spines[s].set_visible(False)
tax.spines['bottom'].set_linewidth(1.6)
tax.set_yticks([])
tax.set_xticks(np.arange(0, 221, 10))
tlabels = []
for v in range(0, 221, 10):
    sec = 15 * 3600 + 42 * 60 + 18 + v
    tlabels.append(f"{sec // 3600}:{sec % 3600 // 60:02d}:{sec % 60:02d}" if v in TICK_TIMES else '')
tax.set_xticklabels(tlabels)
tax.tick_params(axis='x', length=7, width=1.3, labelsize=11.5, pad=4)

label(1226, 1934, 'TEMPS(H)', size=11)
label(728, 1936, 'MR1 : /dfdr/f1374v0390dfdr', size=12)

# ---------------------------------------------------------------------------
# scale titles and legend keys
# ---------------------------------------------------------------------------
keys = [
    (88, 248, 'STKP', 'black', False), (62, 283, 'STKPC', BROWN, False), (69, 299, '⊕', BROWN, False),
    (63, 319, 'STKPF', BLUE, False), (69, 336, '⊗', BLUE, False), (65, 358, 'DA', 'black', False),
    (110, 405, 'ELV', 'black', False), (89, 447, 'ELVL', BROWN, False), (91, 460, '◇', BROWN, False),
    (89, 475, 'ELVR', BLUE, False), (91, 491, '□', BLUE, False), (90, 507, 'STAB', 'black', False),
    (74, 541, 'DA', 'black', False), (91, 552, '△', 'black', False),
    (37, 614, 'VRTG', RED, False), (39, 652, '●', RED, False), (40, 725, 'G', RED, False),
    (148, 719, 'LONG', RED, False), (153, 757, '⊗', RED, False), (151, 830, 'G', RED, False),
    (162, 930, 'GLS', OLIVE, False), (141, 965, 'GLS2', OLIVE, False), (143, 980, '■', OLIVE, False),
    (141, 999, 'GLS1', OLIVE, False), (144, 1013, '◆', OLIVE, False), (139, 1144, 'MA', OLIVE, False),
    (62, 1087, 'SCAS', 'black', True), (69, 1124, '⊕', 'black', False),
    (45, 1143, 'CTASTAT', 'black', True), (69, 1158, '+', 'black', False),
    (75, 1176, 'GS', 'black', True), (69, 1191, '✱', 'black', False),
    (46, 1236, 'CAS_ADC', PURPLE, True), (69, 1251, '▲', PURPLE, False),
    (138, 1245, 'PTCH', PINK, True), (143, 1282, '⊕', PINK, False),
    (130, 1300, 'TAOA2I', BLUE, True), (144, 1315, '□', BLUE, False),
    (130, 1334, 'TAOA1I', BROWN, True), (144, 1348, '△', BROWN, False),
    (145, 1459, 'DA', 'black', True),
    (163, 1559, 'TLA', 'black', False), (144, 1594, 'TLA2', BLUE, True), (144, 1609, '◇', BLUE, False),
    (144, 1627, 'TLA1', BROWN, False), (144, 1643, '⊕', BROWN, False), (140, 1774, 'DA', 'black', True),
    (1382, 563, 'RALT1', 'black', True), (1391, 600, '⊞', 'black', False),
    (1382, 618, 'RALT2', 'black', True), (1391, 633, '✱', 'black', False),
    (1385, 1615, 'FT', 'black', True),
    (1328, 615, 'ALT', ORANGE, True), (1328, 652, '■', ORANGE, False),
    (1323, 670, 'SALT', ORANGE, True), (1330, 688, 'FCU', ORANGE, True), (1328, 703, '×', ORANGE, False),
    (1328, 1022, '10^3', ORANGE, True), (1318, 1039, 'FT', ORANGE, True),
    (1307, 1402, 'EPRT', GREY, False), (1308, 1439, '+', GREY, False),
    (1299, 1458, 'EPRA1', BROWN, False), (1308, 1472, '◆', BROWN, False),
    (1299, 1491, 'EPRA2', BLUE, False), (1308, 1506, '○', BLUE, False),
]
for x, y, s, c, b in keys:
    label(x, y, s, color=c, bold=b, size=11.2 if len(s) > 1 else 9)

# in-plot captions
captions = [
    (223, 352, 'SIDE STICK PITCH POSITION FIRST-OFFICER (STKPF - -)', BLUE, 'left'),
    (220, 398, 'CAPTAIN (STKPC ___ )', BROWN, 'left'),
    (230, 513, 'ELEVATORS RIGHT (ELVR - -)', BLUE, 'left'),
    (228, 553, 'LEFT ( ELVL ___ )', BROWN, 'left'),
    (845, 537, 'STAB', 'black', 'center'), (320, 719, 'VRTG', RED, 'center'),
    (424, 841, 'LONG', RED, 'center'), (641, 706, 'ALT', ORANGE, 'center'),
    (738, 662, 'SALTFCU', ORANGE, 'center'), (422, 1030, 'CAS_ADC', PURPLE, 'center'),
    (635, 1029, 'CTASTAT', 'black', 'center'), (739, 1105, 'SCAS', 'black', 'center'),
    (477, 1137, 'GLS', OLIVE, 'center'), (422, 1343, 'PTCH', PINK, 'center'),
    (1116, 1370, 'TAOA2I - -', BLUE, 'left'), (1116, 1420, 'TAOA1I ___', BROWN, 'left'),
    (739, 1662, 'EPRA', BLUE, 'center'), (740, 1714, 'TLA', BROWN, 'center'),
    (1159, 1855, 'EPRT', GREY, 'center'),
]
for x, y, s, c, ha in captions:
    label(x, y, s, color=c, ha=ha, size=10.8)
label(214, 1068, 'GS', bold=True)
label(1052, 1306, 'RALT1', bold=True)
label(1156, 1623, 'RALT2', bold=True)

fig.savefig('out.png', dpi=100)
